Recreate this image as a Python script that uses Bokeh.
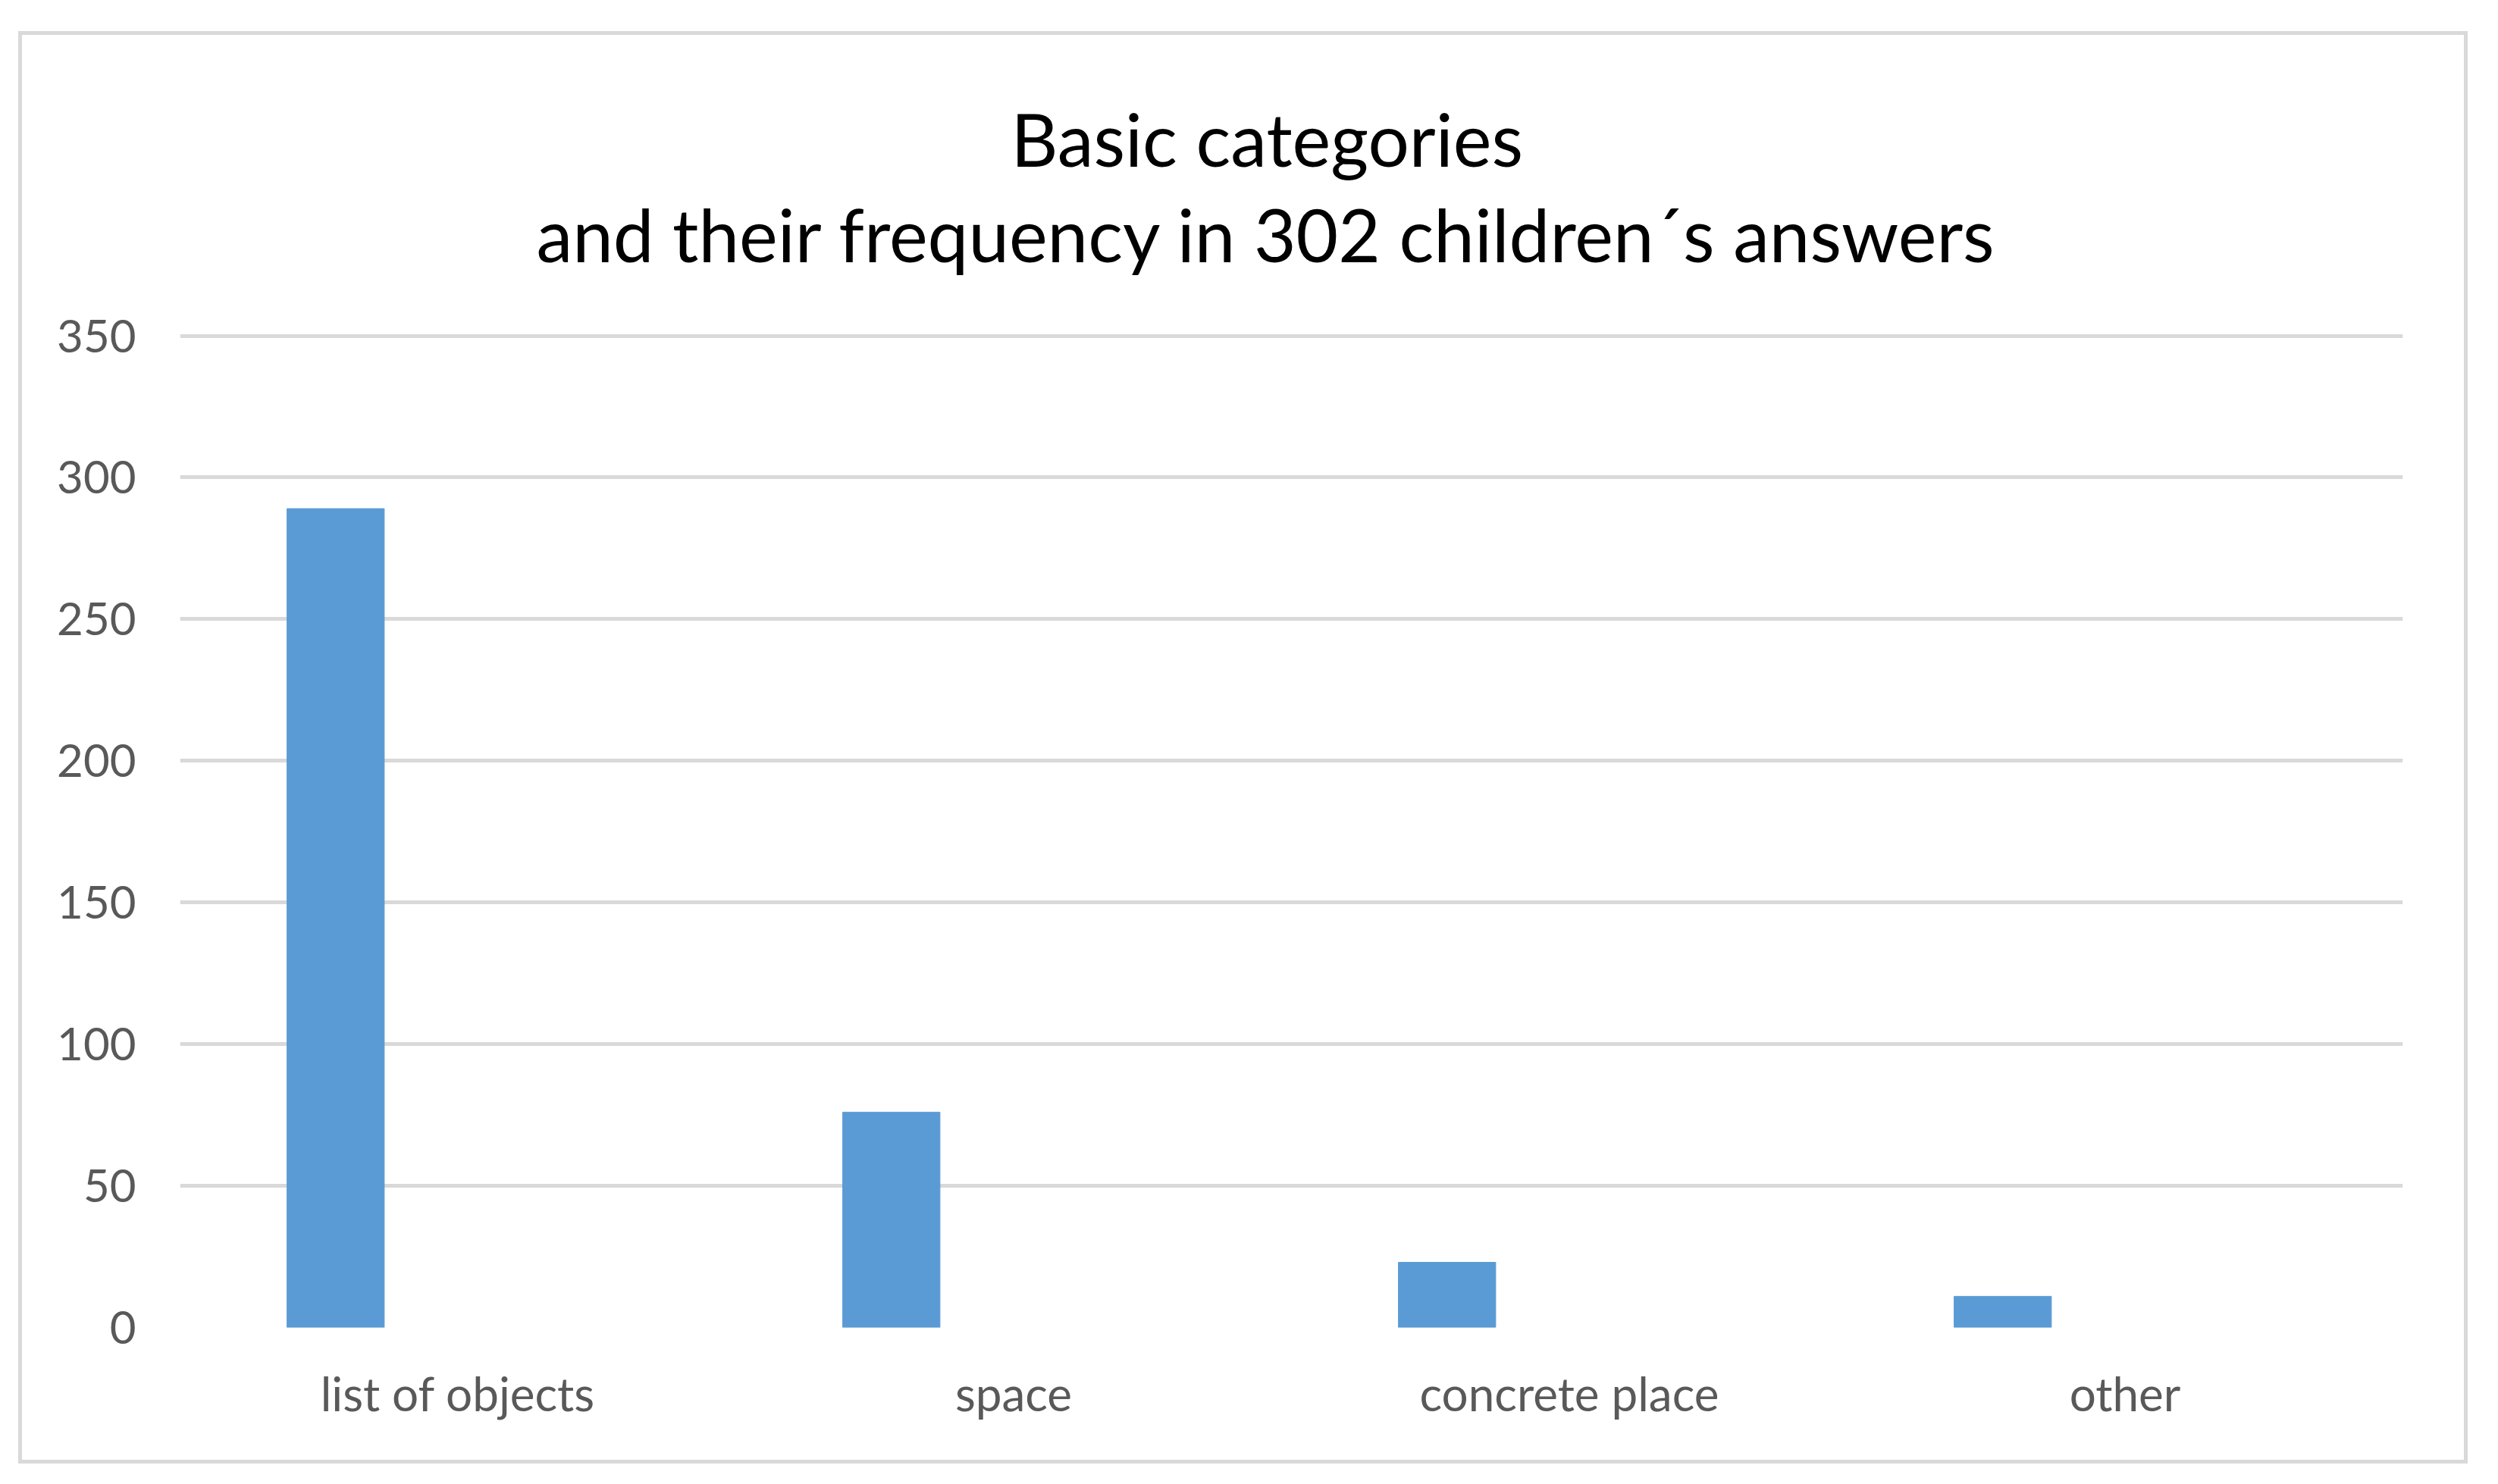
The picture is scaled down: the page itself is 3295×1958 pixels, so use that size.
from bokeh.plotting import figure
from bokeh.models import ColumnDataSource, FixedTicker
from bokeh.core.properties import value
from bokeh.transform import dodge
from bokeh.embed import file_html
from bokeh.resources import INLINE

categories = ["list of objects", "space", "concrete place", "other"]
values = [289, 76, 23, 11]
y_ticks = [0, 50, 100, 150, 200, 250, 300, 350]
title_lines = ["Basic categories", "and their frequency in 302 children\u00b4s answers"]

src = ColumnDataSource(data=dict(categories=categories, values=values))

FONT = "Lato"
Y_TOP = 453.4            # frame extends above the 350 gridline to hold the title
TITLE_Y = [419.8, 386.1]  # vertical centre of the two title lines (axis units)

p = figure(x_range=categories, y_range=(0, Y_TOP), width=3231, height=1890,
           output_backend="svg", toolbar_location=None,
           min_border_left=208, min_border_right=91,
           min_border_top=10, min_border_bottom=185)
p.margin = (41, 0, 0, 24)
p.styles = {"border": "5px solid #d9d9d9"}

p.vbar(x=dodge("categories", -0.22, range=p.x_range), top="values", width=0.175,
       source=src, fill_color="#5B9BD5", line_color="#5B9BD5")

tsrc = ColumnDataSource(data=dict(x=[categories[1]] * 2, y=TITLE_Y, text=title_lines))
p.text(x=dodge("x", 0.456, range=p.x_range), y="y", text="text", source=tsrc,
       text_align="center", text_baseline="middle",
       text_font=value(FONT), text_font_size=value("96px"), text_color="black")

p.outline_line_color = None
p.background_fill_color = "white"
p.border_fill_color = "white"

p.xgrid.grid_line_color = None
p.ygrid.grid_line_color = "#d9d9d9"
p.ygrid.grid_line_width = 5
p.yaxis.ticker = FixedTicker(ticks=y_ticks)

for ax in (p.xaxis[0], p.yaxis[0]):
    ax.axis_line_color = None
    ax.major_tick_line_color = None
    ax.minor_tick_line_color = None
    ax.major_label_text_font = FONT
    ax.major_label_text_color = "#595959"

p.yaxis.major_label_text_font_size = "60px"
p.xaxis.major_label_text_font_size = "62px"
p.yaxis.major_label_standoff = 52
p.xaxis.major_label_standoff = 43

open("out.html", "w").write(file_html(p, INLINE))
